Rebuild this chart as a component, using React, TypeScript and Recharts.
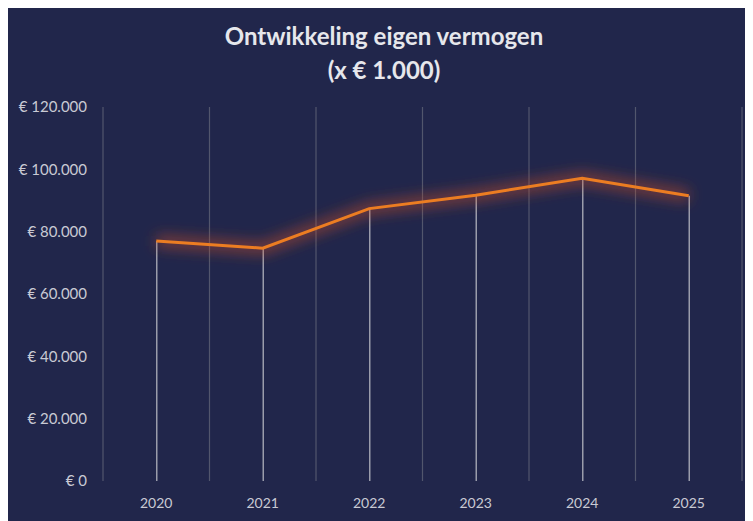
import React from 'react';
import {
  ComposedChart,
  Line,
  Bar,
  XAxis,
  YAxis,
  CartesianGrid,
} from 'recharts';

// Eigen vermogen per jaar (in euro's)
const years = ['2020', '2021', '2022', '2023', '2024', '2025'];
const equity = [77000, 74700, 87400, 91700, 97100, 91500];
const yTicks = [0, 20000, 40000, 60000, 80000, 100000, 120000];

const data = years.map((year, i) => ({ year, value: equity[i] }));

const BG = '#21264b';
const TEXT = '#c9cad4';

const formatEuro = (v: number) =>
  '€ ' + String(v).replace(/\B(?=(\d{3})+(?!\d))/g, '.');

const App: React.FC = () => {
  const width = 746;
  const height = 514;

  return (
    <div
      style={{
        position: 'relative',
        width,
        height,
        margin: '-1px 0 0 -1px',
        background: BG,
        fontFamily: 'Lato, "Open Sans", sans-serif',
      }}
    >
      <div
        style={{
          position: 'absolute',
          left: 0,
          top: 12,
          width: 754,
          textAlign: 'center',
          color: '#e6e7ec',
          fontWeight: 700,
          fontSize: 24,
          lineHeight: '34px',
        }}
      >
        <div>Ontwikkeling eigen vermogen</div>
        <div>(x € 1.000)</div>
      </div>
      <ComposedChart
        width={width}
        height={height}
        data={data}
        margin={{ top: 100, right: 11, bottom: 10, left: 6 }}
      >
        <defs>
          <filter id="glow" filterUnits="userSpaceOnUse" x="0" y="0" width={width} height={height}>
            <feGaussianBlur stdDeviation="7" />
          </filter>
        </defs>
        <CartesianGrid
          horizontal={false}
          stroke="#52566d"
          strokeWidth={1.2}
          verticalCoordinatesGenerator={({ offset }: any) =>
            years.map((_, i) => offset.left + (i * offset.width) / years.length)
              .concat(offset.left + offset.width)
          }
        />
        <XAxis
          dataKey="year"
          axisLine={false}
          tickLine={false}
          tick={{ fill: TEXT, fontSize: 14 }}
          tickMargin={11}
        />
        <YAxis
          width={90}
          domain={[0, 120000]}
          ticks={yTicks}
          interval={0}
          axisLine={false}
          tickLine={false}
          tickSize={0}
          tickMargin={16}
          tickFormatter={formatEuro}
          tick={{ fill: TEXT, fontSize: 15 }}
        />
        <Bar dataKey="value" barSize={1.5} fill="#9a9cab" isAnimationActive={false} />
        <Line
          dataKey="value"
          type="linear"
          stroke="#c4512c"
          strokeWidth={12}
          strokeOpacity={0.55}
          filter="url(#glow)"
          dot={false}
          activeDot={false}
          isAnimationActive={false}
        />
        <Line
          dataKey="value"
          type="linear"
          stroke="#ec7d22"
          strokeWidth={3}
          dot={false}
          activeDot={false}
          isAnimationActive={false}
        />
      </ComposedChart>
    </div>
  );
};

export default App;
